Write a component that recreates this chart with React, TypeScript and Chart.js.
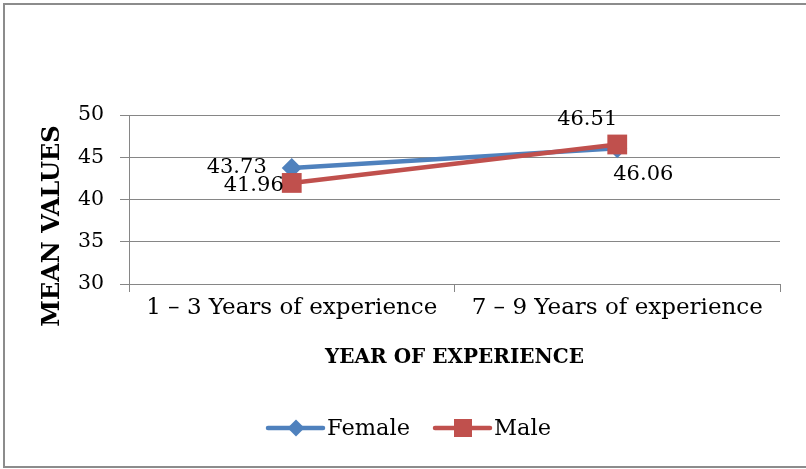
import React, { useEffect, useRef } from "react";
import { Chart, registerables } from "chart.js";

Chart.register(...registerables);

const categories = ["1 – 3 Years of experience", "7 – 9 Years of experience"];
const femaleValues = [43.73, 46.06];
const maleValues = [41.96, 46.51];
const seriesNames = ["Female", "Male"];
const yTicks = [30, 35, 40, 45, 50];
const yTitle = "MEAN VALUES";
const xTitle = "YEAR OF EXPERIENCE";

const FONT = "'DejaVu Serif', 'Liberation Serif', serif";
const BLUE = "#4F81BD";
const RED = "#C0504D";
const GRID = "#868686";

// label placement (style only): [datasetIndex][pointIndex]
const labelPlacement = [
  [
    { dx: -25, dy: 0, align: "right" },
    { dx: -4, dy: 26, align: "left" },
  ],
  [
    { dx: -8, dy: 3, align: "right" },
    { dx: 0, dy: -25, align: "right" },
  ],
];

const overlayPlugin = {
  id: "overlay",
  afterDatasetsDraw(chart: any) {
    const ctx = chart.ctx;
    ctx.save();
    // data labels
    ctx.fillStyle = "#000";
    ctx.font = `21px ${FONT}`;
    ctx.textBaseline = "middle";
    chart.data.datasets.forEach((ds: any, di: number) => {
      const meta = chart.getDatasetMeta(di);
      meta.data.forEach((pt: any, pi: number) => {
        const p = labelPlacement[di][pi];
        ctx.textAlign = p.align;
        ctx.fillText(ds.data[pi].toFixed(2), pt.x + p.dx, pt.y + p.dy);
      });
    });
    const area = chart.chartArea;
    // axis titles
    ctx.textAlign = "center";
    ctx.textBaseline = "middle";
    ctx.font = `bold 20px ${FONT}`;
    ctx.fillText(xTitle, (area.left + area.right) / 2, 358);
    ctx.save();
    ctx.font = `bold 24px ${FONT}`;
    ctx.translate(53, 226);
    ctx.rotate(-Math.PI / 2);
    ctx.fillText(yTitle, 0, 0);
    ctx.restore();
    // legend
    const ly = 428;
    const items = [
      { x: 268, color: BLUE, shape: "diamond", name: seriesNames[0] },
      { x: 435, color: RED, shape: "square", name: seriesNames[1] },
    ];
    items.forEach((it) => {
      ctx.strokeStyle = it.color;
      ctx.lineWidth = 4.5;
      ctx.lineCap = "round";
      ctx.beginPath();
      ctx.moveTo(it.x, ly);
      ctx.lineTo(it.x + 55, ly);
      ctx.stroke();
      ctx.fillStyle = it.color;
      const cx = it.x + 28;
      ctx.beginPath();
      if (it.shape === "diamond") {
        ctx.moveTo(cx, ly - 8.5);
        ctx.lineTo(cx + 8.5, ly);
        ctx.lineTo(cx, ly + 8.5);
        ctx.lineTo(cx - 8.5, ly);
        ctx.closePath();
      } else {
        ctx.rect(cx - 9, ly - 9, 18, 18);
      }
      ctx.fill();
      ctx.fillStyle = "#000";
      ctx.font = `22.5px ${FONT}`;
      ctx.textAlign = "left";
      ctx.textBaseline = "middle";
      ctx.fillText(it.name, it.x + 59, ly + 1);
    });
    ctx.restore();
  },
};

export default function App() {
  const ref = useRef<HTMLCanvasElement>(null);
  useEffect(() => {
    document.body.style.margin = "0";
    const chart = new Chart(ref.current!, {
      type: "line",
      data: {
        labels: categories,
        datasets: [
          {
            label: seriesNames[0],
            data: femaleValues,
            borderColor: BLUE,
            backgroundColor: BLUE,
            borderWidth: 4.5,
            pointStyle: "rectRot",
            pointRadius: 10,
            pointBorderWidth: 0,
            order: 1,
          },
          {
            label: seriesNames[1],
            data: maleValues,
            borderColor: RED,
            backgroundColor: RED,
            borderWidth: 4.5,
            pointStyle: "rect",
            pointRadius: 14,
            pointBorderWidth: 0,
            order: 0,
          },
        ],
      },
      options: {
        animation: false,
        responsive: false,
        layout: { padding: { left: 0, top: 115, right: 26, bottom: 0 } },
        plugins: {
          legend: { display: false },
          tooltip: { enabled: false },
        },
        scales: {
          x: {
            type: "category",
            offset: true,
            afterFit: (s: any) => {
              s.height = 469 - 284;
            },
            grid: {
              offset: true,
              drawOnChartArea: false,
              drawTicks: true,
              tickLength: 8,
              color: GRID,
            },
            border: { color: GRID, width: 1 },
            ticks: {
              color: "#000",
              font: { family: FONT, size: 23 },
              padding: 2,
              maxRotation: 0,
              autoSkip: false,
            },
          },
          y: {
            min: yTicks[0],
            max: yTicks[yTicks.length - 1],
            afterFit: (s: any) => {
              s.width = 129;
            },
            afterBuildTicks: (s: any) => {
              s.ticks = yTicks.map((v) => ({ value: v }));
            },
            grid: { color: GRID, tickLength: 9 },
            border: { color: GRID, width: 1 },
            ticks: {
              color: "#000",
              font: { family: FONT, size: 20.5 },
              padding: 16,
            },
          },
        },
      },
      plugins: [overlayPlugin],
    });
    return () => chart.destroy();
  }, []);
  return (
    <div style={{ position: "relative", width: 806, height: 469, overflow: "hidden", background: "#fff" }}>
      <canvas ref={ref} width={806} height={469} style={{ position: "absolute", left: 0, top: 0 }} />
      <div
        style={{
          position: "absolute",
          left: 3,
          top: 3,
          width: 803,
          height: 461,
          borderLeft: "2px solid #8c8c8c",
          borderTop: "2px solid #8c8c8c",
          borderBottom: "2px solid #8c8c8c",
          pointerEvents: "none",
        }}
      />
    </div>
  );
}
